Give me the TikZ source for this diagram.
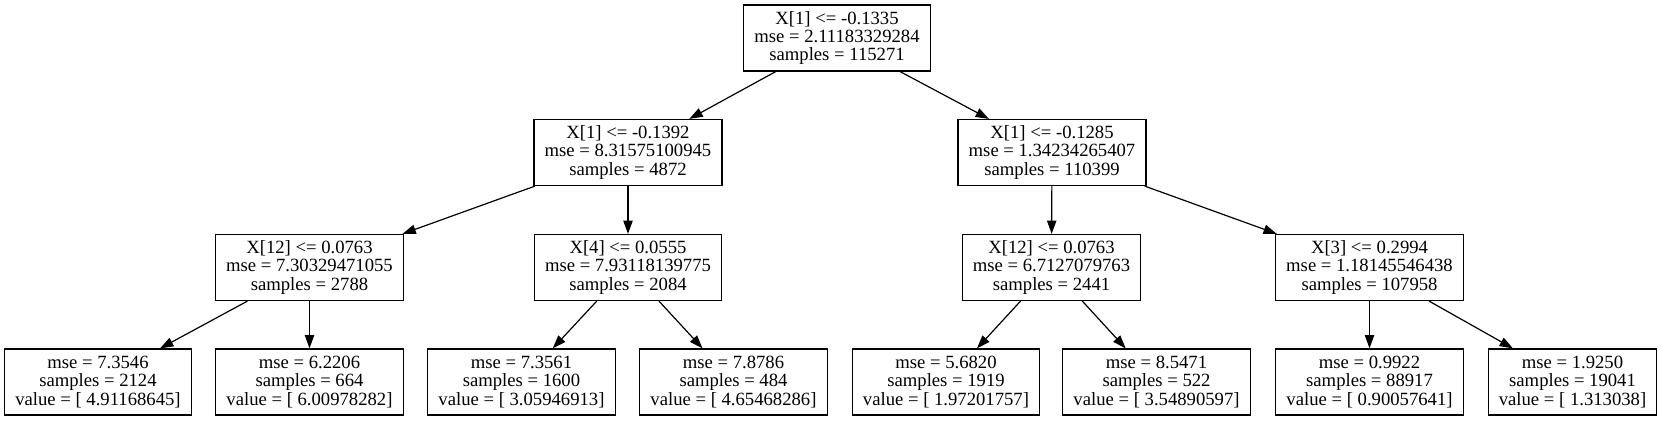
\documentclass[tikz,border=0pt]{standalone}
\usepackage{fontspec}
\setmainfont{Liberation Serif}
\usepackage{tikz}
\usetikzlibrary{
	positioning,						% Relative positioning
	arrows.meta							% Advanced arrows
}

\begin{document}
\begin{tikzpicture}[x=0.75pt, y=-0.75pt]
		\tikzstyle{decision} = [draw, line width=0.9pt, align=center, inner xsep=8pt, inner ysep=0pt, minimum height=49.5pt, font=\fontsize{14pt}{13.8pt}\selectfont]
		\tikzstyle{leaf} = [decision]
		\tikzstyle{arrowLine} = [-{Triangle[length=10pt, width=7pt]}, line width=0.9pt]
		\useasboundingbox (0, 0) rectangle (1662, 421);
		
		% Depth 0
		\node[decision] at (837, 38) (rootNode) {X[1] <= -0.1335\\mse = 2.11183329284\\samples = 115271};
		
		% Depth 1
		\node[decision] at (628, 152.5) (depthOneNode0) {X[1] <= -0.1392\\mse = 8.31575100945\\samples = 4872};
		\node[decision] at (1052, 152.5) (depthOneNode1) {X[1] <= -0.1285\\mse = 1.34234265407\\samples = 110399};
		%% Arrows from above
		\foreach \child in {0, 1}{
			\draw[arrowLine] (rootNode) to (depthOneNode\child);
		}
		
		% Depth 2
		\foreach \idx/\x/\feat/\mse/\smp in {0/309.5/X[12] <= 0.0763/7.30329471055/2788, 1/628/X[4] <= 0.0555/7.93118139775/2084, 2/1051.5/X[12] <= 0.0763/6.7127079763/2441, 3/1369.5/X[3] <= 0.2994/1.18145546438/107958}{
			\node[decision] at (\x, 267.5) (depthTwoNode\idx) {\feat\\mse = \mse\\samples = \smp};
		}
		%% Arrows from above
		\foreach \idx in {0, ..., 3}{
			\pgfmathtruncatemacro{\parent}{\idx/2}
			\draw[arrowLine] (depthOneNode\parent) to (depthTwoNode\idx);
		}
		
		% Leaves
		\foreach \idx/\x/\mse/\smp/\val in {0/98/7.3546/2124/4.91168645, 1/309.5/6.2206/664/6.00978282, 2/521.5/7.3561/1600/3.05946913, 3/733.5/7.8786/484/4.65468286, 4/946/5.6820/1919/1.97201757, 5/1156.5/8.5471/522/3.54890597, 6/1369.5/0.9922/88917/0.90057641, 7/1572.5/1.9250/19041/1.313038}{
			\node[leaf] at (\x, 382) (leafNode\idx) {mse = \mse\\samples = \smp\\value = [ \val]};
		}
		%% Arrows from above
		\foreach \idx in {0, ..., 7}{
			\pgfmathtruncatemacro{\parent}{\idx/2}
			\draw[arrowLine] (depthTwoNode\parent) to (leafNode\idx);
		}
	\end{tikzpicture}
\end{document}
